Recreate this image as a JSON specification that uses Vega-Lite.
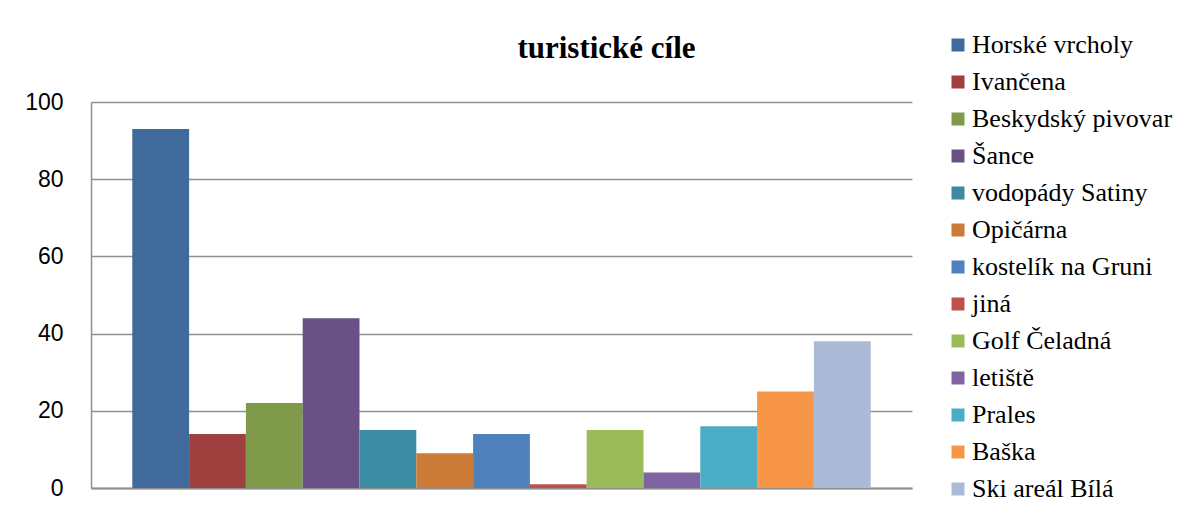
{
  "$schema": "https://vega.github.io/schema/vega-lite/v6.json",
  "width": 821,
  "height": 386,
  "autosize": {"type": "none"},
  "padding": {"left": 91, "top": 102, "right": 281, "bottom": 26},
  "background": "white",
  "title": {
    "text": "turistické cíle",
    "font": "Liberation Serif",
    "fontSize": 31,
    "fontWeight": "bold",
    "color": "#000000",
    "anchor": "middle",
    "frame": "group",
    "dx": 105,
    "baseline": "alphabetic",
    "offset": -57
  },
  "data": {
    "values": [
      {"name": "Horské vrcholy", "value": 93},
      {"name": "Ivančena", "value": 14},
      {"name": "Beskydský pivovar", "value": 22},
      {"name": "Šance", "value": 44},
      {"name": "vodopády Satiny", "value": 15},
      {"name": "Opičárna", "value": 9},
      {"name": "kostelík na Gruni", "value": 14},
      {"name": "jiná", "value": 1},
      {"name": "Golf Čeladná", "value": 15},
      {"name": "letiště", "value": 4},
      {"name": "Prales", "value": 16},
      {"name": "Baška", "value": 25},
      {"name": "Ski areál Bílá", "value": 38}
    ]
  },
  "mark": {"type": "bar"},
  "encoding": {
    "x": {
      "field": "name",
      "type": "nominal",
      "sort": null,
      "scale": {"paddingInner": 0, "paddingOuter": 0.727},
      "axis": {
        "title": null,
        "labels": false,
        "ticks": false,
        "domain": true,
        "domainColor": "#909090",
        "domainWidth": 2,
        "grid": false
      }
    },
    "y": {
      "field": "value",
      "type": "quantitative",
      "scale": {"domain": [0, 100], "nice": false},
      "axis": {
        "title": null,
        "values": [0, 20, 40, 60, 80, 100],
        "ticks": false,
        "domain": true,
        "domainColor": "#909090",
        "domainWidth": 1.5,
        "grid": true,
        "gridColor": "#909090",
        "gridWidth": 1.5,
        "labelFont": "Liberation Sans",
        "labelFontSize": 23,
        "labelColor": "#000000",
        "labelPadding": 28
      }
    },
    "color": {
      "field": "name",
      "type": "nominal",
      "sort": null,
      "scale": {
        "domain": ["Horské vrcholy", "Ivančena", "Beskydský pivovar", "Šance", "vodopády Satiny", "Opičárna", "kostelík na Gruni", "jiná", "Golf Čeladná", "letiště", "Prales", "Baška", "Ski areál Bílá"],
        "range": ["#406A9C", "#9E413E", "#7F9A48", "#695185", "#3B8BA2", "#CC7B38", "#4F81BD", "#C0504D", "#9BBB59", "#8064A2", "#4BACC6", "#F79646", "#AABAD7"]
      },
      "legend": {
        "title": null,
        "orient": "none",
        "legendX": 854,
        "legendY": -70,
        "padding": 0,
        "symbolType": "square",
        "symbolSize": 169,
        "symbolStrokeWidth": 0,
        "symbolOpacity": 1,
        "labelFont": "Liberation Serif",
        "labelFontSize": 26,
        "labelColor": "#000000",
        "labelOffset": 1,
        "rowPadding": 11,
        "labelLimit": 300
      }
    }
  },
  "config": {
    "view": {"stroke": null}
  }
}
